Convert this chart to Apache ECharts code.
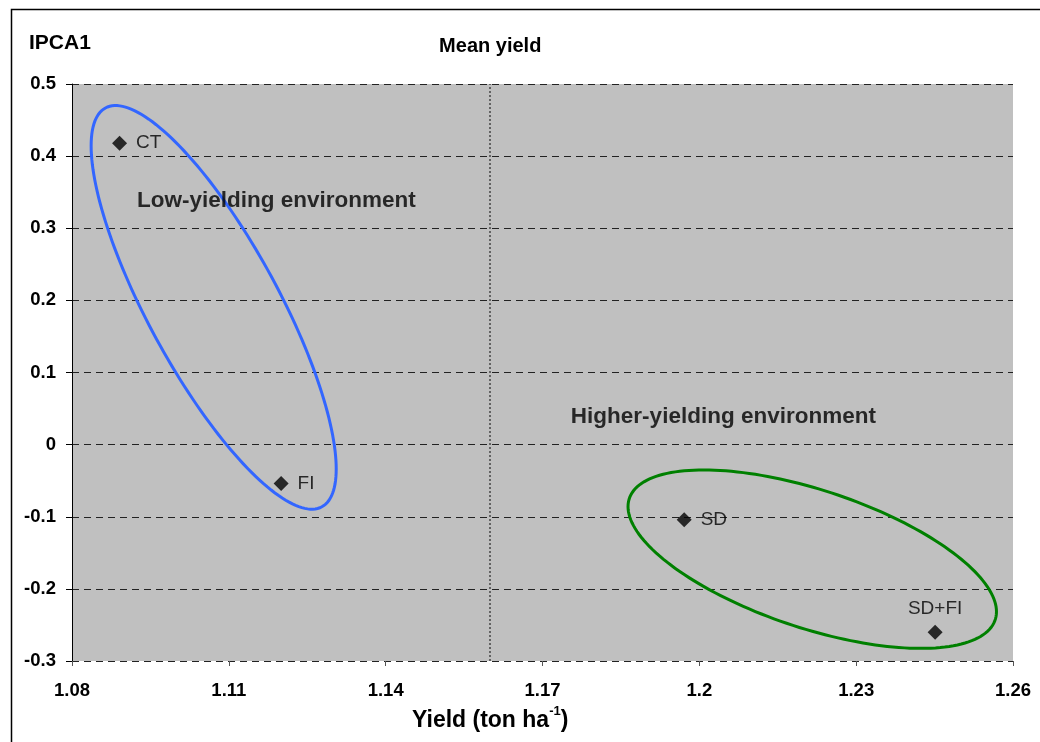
<!DOCTYPE html>
<html>
<head>
<meta charset="utf-8">
<title>IPCA1 vs mean yield</title>
<script src="https://cdn.jsdelivr.net/npm/echarts@6/dist/echarts.min.js"></script>
<style>
  html, body { margin: 0; padding: 0; background: #fff; }
  #chart { width: 1040px; height: 742px; }
</style>
</head>
<body>
<div id="chart"></div>
<script>
// Treatments and their coordinates: mean yield (ton/ha) vs IPCA1 score
const TREATMENTS = ['CT', 'FI', 'SD', 'SD+FI'];
const YIELD = [1.0891, 1.1200, 1.1971, 1.2451];
const IPCA1 = [0.418, -0.054, -0.104, -0.260];
const LABEL_SIDE = ['right', 'right', 'right', 'top'];

// Mean yield reference value (vertical dotted line)
const MEAN_YIELD = 1.159;

// Axis ticks
const X_TICKS = ['1.08', '1.11', '1.14', '1.17', '1.2', '1.23', '1.26'];
const Y_TICKS = ['-0.3', '-0.2', '-0.1', '0', '0.1', '0.2', '0.3', '0.4', '0.5'];
const X_STEP = 0.03;
const Y_STEP = 0.1;

// Grouping ellipses in data units: centre (x, y), then two conjugate half-axis vectors
const ELLIPSE_LOW = [1.1071, 0.1903, 0.02344, -0.2239, 0, -0.1678];
const ELLIPSE_HIGH = [1.2216, -0.1588, 0.03524, -0.0728, 0, -0.1000];

// Environment group captions, anchored in data units
const GROUP_NAMES = ['Low-yielding environment', 'Higher-yielding environment'];
const GROUP_ANCHORS = [[1.1191, 0.3377], [1.2046, 0.0381]];

const FONT = "'Liberation Sans', Arial, Helvetica, sans-serif";
const ELLIPSE_COLORS = ['#3366FF', '#008000'];

const xMin = +X_TICKS[0], xMax = +X_TICKS[X_TICKS.length - 1];
const yMin = +Y_TICKS[0], yMax = +Y_TICKS[Y_TICKS.length - 1];

const chart = echarts.init(document.getElementById('chart'), null, { renderer: 'canvas' });

const option = {
  animation: false,
  backgroundColor: '#ffffff',
  textStyle: { fontFamily: FONT },
  grid: {
    left: 72, top: 84, right: 27, bottom: 81,
    show: true, backgroundColor: '#C0C0C0', borderWidth: 0
  },
  xAxis: {
    type: 'value',
    min: xMin, max: xMax, interval: X_STEP,
    axisLine: { show: false, onZero: false },
    axisTick: { show: true, length: 5, lineStyle: { color: '#555' } },
    splitLine: { show: false },
    axisLabel: {
      margin: 20,
      color: '#000', fontSize: 18.5, fontWeight: 'bold', fontFamily: FONT,
      formatter: v => X_TICKS[Math.round((v - xMin) / X_STEP)] ?? ''
    }
  },
  yAxis: {
    type: 'value',
    min: yMin, max: yMax, interval: Y_STEP,
    axisLine: { show: true, onZero: false, lineStyle: { color: '#000', width: 1 } },
    axisTick: { show: true, length: 6, lineStyle: { color: '#000' } },
    splitLine: { show: true, lineStyle: { color: '#222', type: [7, 5], width: 1 } },
    axisLabel: {
      margin: 16,
      color: '#000', fontSize: 18.5, fontWeight: 'bold', fontFamily: FONT,
      formatter: v => Y_TICKS[Math.round((v - yMin) / Y_STEP)] ?? ''
    }
  },
  graphic: [
    {
      type: 'rect', silent: true, z: 100,
      shape: { x: 11.5, y: 9.5, width: 1200, height: 1000 },
      style: { fill: 'none', stroke: '#000', lineWidth: 1.5 }
    },
    {
      type: 'text', left: 29, top: 33, z: 100,
      style: { text: 'IPCA1', fontSize: 21, fontWeight: 'bold', fontFamily: FONT, fill: '#000' }
    },
    {
      type: 'text', left: 412, top: 705, z: 100,
      style: {
        text: '{b|Yield (ton ha}{s|-1}{b|)}',
        rich: {
          b: { fontSize: 23, fontWeight: 'bold', fontFamily: FONT, fill: '#000', lineHeight: 27, verticalAlign: 'bottom' },
          s: { fontSize: 13, fontWeight: 'bold', fontFamily: FONT, fill: '#000', lineHeight: 27, verticalAlign: 'top', padding: [0, 0, 8, 0] }
        }
      }
    }
  ],
  series: [
    {
      name: 'ellipses',
      type: 'custom',
      coordinateSystem: 'cartesian2d',
      silent: true,
      z: 2,
      data: [ELLIPSE_LOW, ELLIPSE_HIGH],
      encode: { x: 0, y: 1 },
      renderItem: (params, api) => {
        const cx = api.value(0), cy = api.value(1);
        const ux = api.value(2), uy = api.value(3);
        const vx = api.value(4), vy = api.value(5);
        const pts = [];
        const n = 180;
        for (let k = 0; k < n; k++) {
          const t = 2 * Math.PI * k / n;
          const c = Math.cos(t), s = Math.sin(t);
          pts.push(api.coord([cx + ux * c + vx * s, cy + uy * c + vy * s]));
        }
        return {
          type: 'polygon',
          shape: { points: pts },
          style: { fill: 'none', stroke: ELLIPSE_COLORS[params.dataIndex], lineWidth: 3 }
        };
      }
    },
    {
      name: 'groups',
      type: 'scatter',
      silent: true,
      symbolSize: 0,
      z: 3,
      data: GROUP_NAMES.map((name, i) => ({ name, value: GROUP_ANCHORS[i] })),
      label: {
        show: true, position: 'inside',
        formatter: p => p.name,
        color: '#000', fontSize: 22.5, fontWeight: 'bold', fontFamily: FONT
      }
    },
    {
      name: 'treatments',
      type: 'scatter',
      symbol: 'diamond',
      symbolSize: 15,
      z: 4,
      itemStyle: { color: '#000' },
      data: TREATMENTS.map((name, i) => ({
        name,
        value: [YIELD[i], IPCA1[i]],
        label: { position: LABEL_SIDE[i], distance: LABEL_SIDE[i] === 'top' ? 6 : 9 }
      })),
      label: {
        show: true,
        formatter: p => p.name,
        color: '#000', fontSize: 19, fontFamily: FONT
      },
      markLine: {
        silent: true,
        symbol: 'none',
        animation: false,
        lineStyle: { color: '#444', type: [2, 2], width: 1.5 },
        label: {
          show: true, position: 'end', distance: 28,
          formatter: 'Mean yield',
          color: '#000', fontSize: 20, fontWeight: 'bold', fontFamily: FONT
        },
        data: [{ xAxis: MEAN_YIELD }]
      }
    }
  ]
};

chart.setOption(option);
</script>
</body>
</html>
